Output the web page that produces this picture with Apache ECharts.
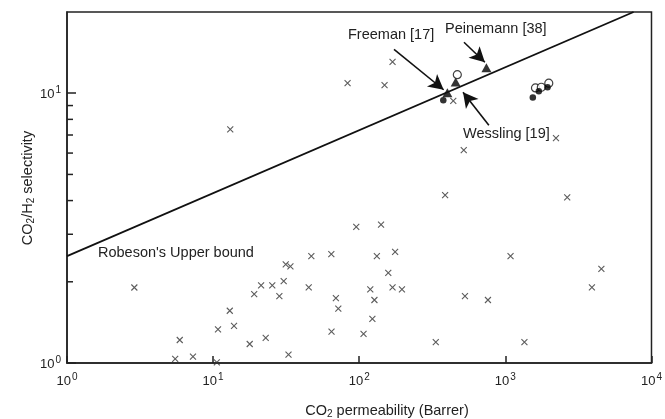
<!DOCTYPE html>
<html>
<head>
<meta charset="utf-8">
<script src="https://cdn.jsdelivr.net/npm/echarts@6/dist/echarts.min.js"></script>
<style>
  html, body { margin: 0; padding: 0; background: #fff; }
  #chart { width: 665px; height: 419px; }
</style>
</head>
<body>
<div id="chart"></div>
<script>
// CO2 permeability (Barrer), CO2/H2 selectivity
var crossData = [
  [83.2, 10.9], [13.1, 7.34], [169, 13.06], [149, 10.72], [440, 9.36],
  [2220, 6.81], [519, 6.15], [387, 4.19], [2650, 4.11], [2.89, 1.905],
  [5.91, 1.217], [5.5, 1.036], [7.28, 1.055], [10.8, 1.333], [10.6, 1.005],
  [13.0, 1.562], [13.9, 1.374], [17.8, 1.176], [22.9, 1.238], [19.1, 1.801],
  [21.3, 1.94], [25.4, 1.94], [28.4, 1.771], [30.4, 2.01], [31.4, 2.32],
  [33.8, 2.28], [32.8, 1.075], [45.1, 1.907], [47.0, 2.49], [64.4, 2.533],
  [69.2, 1.741], [71.9, 1.592], [64.6, 1.306], [95.4, 3.198], [141, 3.26],
  [132, 2.49], [176, 2.584], [158, 2.158], [119, 1.875], [169, 1.907],
  [196, 1.875], [127, 1.712], [123, 1.458], [107, 1.281], [334, 1.196],
  [529, 1.771], [760, 1.712], [1085, 2.49], [1350, 1.196], [3910, 1.907],
  [4540, 2.235]
];
var triangleData = [[401, 10.04], [457, 11.01], [742, 12.43]];
var openCircleData = [[469, 11.71], [1607, 10.46], [1762, 10.52], [1982, 10.89]];
var filledCircleData = [[376, 9.42], [1541, 9.64], [1694, 10.17], [1944, 10.52]];
// Robeson upper bound (end points)
var upperBound = [[1, 2.49], [7540, 20]];
// annotation arrows [from, to]
var freemanArrow = [[173, 14.55], [378, 10.3]];
var peinemannArrow = [[521, 15.45], [724, 13.02]];
var wesslingArrow = [[771, 7.61], [513, 10.09]];
var yMinorTicks = [2, 3, 4, 5, 6, 7, 8, 9];

var FONT = '"Liberation Sans", Arial, sans-serif';
var INK = '#222';

function powLabel(v) {
  var e = Math.round(Math.log10(v));
  if (Math.abs(Math.pow(10, e) - v) > 1e-6 * v) return '';
  return '{b|10}{s|' + e + '}';
}
var powRich = {
  b: { fontSize: 13, fontFamily: FONT, color: INK, lineHeight: 16, verticalAlign: 'bottom' },
  s: { fontSize: 10, fontFamily: FONT, color: INK, lineHeight: 16, verticalAlign: 'top', padding: [0, 0, 0, 1] }
};
var subRich = {
  s: { fontSize: 10, fontFamily: FONT, color: INK, verticalAlign: 'bottom', padding: [6, 0, 0, 0] }
};

function arrowLine(a) {
  return [{ coord: a[0] }, { coord: a[1] }];
}

var chart = echarts.init(document.getElementById('chart'));
var option = {
  animation: false,
  backgroundColor: '#fff',
  grid: {
    left: 67, right: 12, top: 12, bottom: 56,
    show: true, borderColor: INK, borderWidth: 1.5, backgroundColor: 'transparent'
  },
  xAxis: {
    type: 'log', logBase: 10, min: 1, max: 10000,
    axisLine: { lineStyle: { color: INK, width: 1.5 } },
    axisTick: { inside: true, length: 7, lineStyle: { color: INK, width: 1.5 } },
    splitLine: { show: false },
    axisLabel: { margin: 9, formatter: powLabel, rich: powRich }
  },
  yAxis: {
    type: 'log', logBase: 10, min: 1, max: 20,
    axisLine: { lineStyle: { color: INK, width: 1.5 } },
    axisTick: { inside: true, length: 9, lineStyle: { color: INK, width: 1.5 } },
    splitLine: { show: false },
    axisLabel: { margin: 6, formatter: powLabel, rich: powRich, showMaxLabel: false }
  },
  graphic: [
    { type: 'text', x: 348, y: 35, style: { text: 'Freeman [17]', font: '14.5px ' + FONT, fill: INK, verticalAlign: 'middle' } },
    { type: 'text', x: 445, y: 29, style: { text: 'Peinemann [38]', font: '14.5px ' + FONT, fill: INK, verticalAlign: 'middle' } },
    { type: 'text', x: 463, y: 134, style: { text: 'Wessling [19]', font: '14.5px ' + FONT, fill: INK, verticalAlign: 'middle' } },
    { type: 'text', x: 98, y: 253, style: { text: "Robeson's Upper bound", font: '14.5px ' + FONT, fill: INK, verticalAlign: 'middle' } },
    { type: 'text', x: 387, y: 411, style: { text: 'CO{s|2} permeability (Barrer)', font: '14.5px ' + FONT, fill: INK, align: 'center', verticalAlign: 'middle', rich: subRich } },
    { type: 'text', x: 28, y: 188, rotation: Math.PI / 2, style: { text: 'CO{s|2}/H{s|2} selectivity', font: '14.5px ' + FONT, fill: INK, align: 'center', verticalAlign: 'middle', rich: subRich } }
  ],
  series: [
    {
      name: 'upper bound', type: 'line', data: upperBound, symbol: 'none',
      lineStyle: { color: '#111', width: 1.8 },
      markLine: {
        silent: true, symbol: ['none', 'arrow'], symbolSize: [12, 15],
        label: { show: false },
        lineStyle: { color: '#111', width: 1.6, type: 'solid' },
        data: [arrowLine(freemanArrow), arrowLine(peinemannArrow), arrowLine(wesslingArrow)]
      }
    },
    {
      name: 'other', type: 'scatter', data: crossData,
      symbol: 'path://M0,0L10,10M10,0L0,10', symbolSize: 6,
      itemStyle: { color: 'none', borderColor: '#333', borderWidth: 1.1 }
    },
    {
      name: 'triangle', type: 'scatter', data: triangleData,
      symbol: 'triangle', symbolSize: [10, 9],
      itemStyle: { color: '#000' }
    },
    {
      name: 'open', type: 'scatter', data: openCircleData,
      symbol: 'circle', symbolSize: 8,
      itemStyle: { color: '#fff', borderColor: '#111', borderWidth: 1.2 }
    },
    {
      name: 'filled', type: 'scatter', data: filledCircleData,
      symbol: 'circle', symbolSize: 6.5,
      itemStyle: { color: '#000' }
    },
    {
      name: 'minor ticks', type: 'custom', silent: true, clip: false,
      data: yMinorTicks.map(function (v) { return [1, v]; }),
      renderItem: function (params, api) {
        var p = api.coord([1, api.value(1)]);
        return {
          type: 'line',
          shape: { x1: p[0], y1: p[1], x2: p[0] + 6, y2: p[1] },
          style: { stroke: INK, lineWidth: 1.5 }
        };
      }
    }
  ]
};
chart.setOption(option);
</script>
</body>
</html>
